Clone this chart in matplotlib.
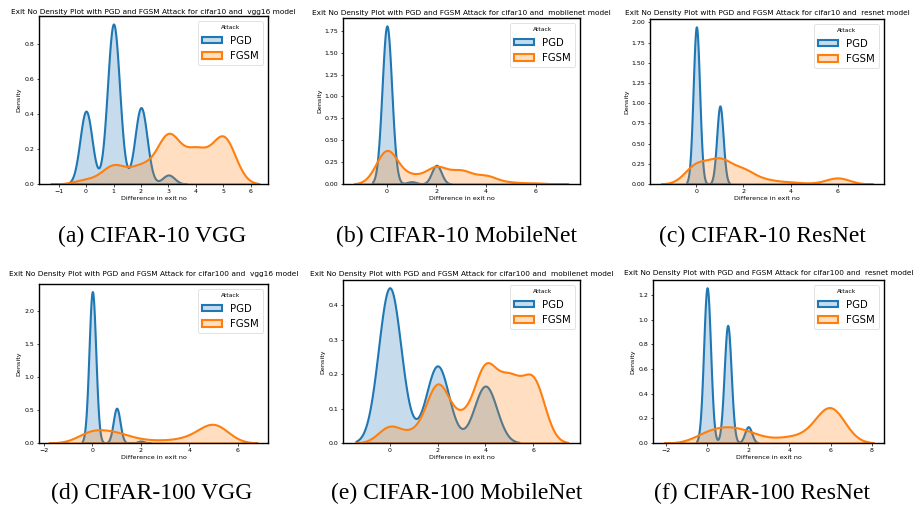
import numpy as np
import matplotlib
matplotlib.use("Agg")
import matplotlib.pyplot as plt
import seaborn as sns
from matplotlib.patches import Patch

# share of test images per "difference in exit no" (0, 1, 2, ...)
pgd_c10_vgg = [0.226, 0.496, 0.237, 0.028]
fgsm_c10_vgg = [0.025, 0.11, 0.10, 0.29, 0.19, 0.28]
pgd_c10_mob = [0.885, 0.013, 0.105]
fgsm_c10_mob = [0.404, 0.089, 0.199, 0.152, 0.096, 0.02, 0.012]
pgd_c10_res = [0.668, 0.332]
fgsm_c10_res = [0.305, 0.3635, 0.209, 0.056, 0.028, 0.007, 0.10]
pgd_c100_vgg = [0.804, 0.185, 0.0105]
fgsm_c100_vgg = [0.244, 0.183, 0.052, 0.042, 0.087, 0.411]
pgd_c100_mob = [0.545, 0.008, 0.27, 0.003, 0.2]
fgsm_c100_mob = [0.056, 0.0286, 0.197, 0.068, 0.25, 0.195, 0.212]
pgd_c100_res = [0.524, 0.397, 0.055]
fgsm_c100_res = [0.117, 0.155, 0.109, 0.026, 0.0626, 0.063, 0.492]

datasets = ["cifar10", "cifar10", "cifar10", "cifar100", "cifar100", "cifar100"]
models = ["vgg16", "mobilenet", "resnet", "vgg16", "mobilenet", "resnet"]
captions = ["(a) CIFAR-10 VGG", "(b) CIFAR-10 MobileNet", "(c) CIFAR-10 ResNet",
            "(d) CIFAR-100 VGG", "(e) CIFAR-100 MobileNet", "(f) CIFAR-100 ResNet"]
attacks = ["PGD", "FGSM"]
xticks = [[-1, 0, 1, 2, 3, 4, 5, 6], [0, 2, 4, 6], [0, 2, 4, 6],
          [-2, 0, 2, 4, 6], [0, 2, 4, 6], [-2, 0, 2, 4, 6, 8]]
xlims = [(-1.71, 6.62), (-1.77, 7.79), (-1.97, 7.97), (-2.2, 7.24), (-1.95, 7.95), (-2.63, 8.6)]

series = [(pgd_c10_vgg, fgsm_c10_vgg), (pgd_c10_mob, fgsm_c10_mob), (pgd_c10_res, fgsm_c10_res),
          (pgd_c100_vgg, fgsm_c100_vgg), (pgd_c100_mob, fgsm_c100_mob), (pgd_c100_res, fgsm_c100_res)]
# kernel bandwidth (in exit units) for PGD / FGSM per panel
bandwidths = [(0.22, 0.43), (0.195, 0.44), (0.137, 0.5), (0.14, 0.6), (0.47, 0.48), (0.17, 0.7)]

colors = ["#1f77b4", "#ff7f0e"]

# axes boxes in pixels: left, top, right, bottom
W, H = 914, 508
boxes = [(39, 16, 268, 184), (343, 18, 580, 184), (650, 19, 884, 184),
         (39, 284, 268, 443), (343, 280, 580, 443), (653, 280, 884, 443)]
title_y = [12, 13, 13, 274, 274, 273]
cap_xy = [(152, 236), (457, 236), (762, 236), (152, 493), (457, 493), (762, 493)]


def kde(ax, w, h, color):
    vals = np.arange(len(w))
    w = np.asarray(w, float)
    sd = np.sqrt(np.cov(vals, aweights=w))
    # support = data range +- 3 bandwidths (like seaborn's cut=3)
    sns.kdeplot(x=vals, weights=w, bw_method=h / sd, fill=True, color=color,
                linewidth=1.5, cut=50, clip=(vals.min() - 3 * h, vals.max() + 3 * h),
                gridsize=400, ax=ax)


fig = plt.figure(figsize=(W / 100, H / 100), dpi=100)

for i in range(6):
    l, t, r, b = boxes[i]
    ax = fig.add_axes([l / W, 1 - b / H, (r - l) / W, (b - t) / H])
    for k in range(2):
        kde(ax, series[i][k], bandwidths[i][k], colors[k])
    ax.set_xlim(*xlims[i])
    ax.set_xticks(xticks[i])
    fig.text((l + r) / 2 / W, 1 - title_y[i] / H,
             "Exit No Density Plot with PGD and FGSM Attack for %s and  %s model"
             % (datasets[i], models[i]), fontsize=5.3, ha="center", va="center")
    ax.set_xlabel("Difference in exit no", fontsize=4.6, labelpad=1.5)
    ax.set_ylabel("Density", fontsize=4.6, labelpad=2)
    ax.tick_params(labelsize=4.5, length=1.8, width=0.5, pad=1.5)
    for s in ax.spines.values():
        s.set_linewidth(1.0)
    handles = [Patch(facecolor=matplotlib.colors.to_rgba(c, 0.25), edgecolor=c, linewidth=1.5)
               for c in colors]
    leg = ax.legend(handles, attacks, title="Attack", loc="upper right", fontsize=7.3,
                    title_fontsize=4.3, borderpad=0.4, labelspacing=0.55,
                    handlelength=2.0, handleheight=0.6, handletextpad=0.8)
    leg.get_frame().set_linewidth(0.5)
    fig.text(cap_xy[i][0] / W, 1 - cap_xy[i][1] / H, captions[i], ha="center", va="center",
             family="Liberation Serif", fontsize=17)

fig.savefig("out.png", dpi=100)
